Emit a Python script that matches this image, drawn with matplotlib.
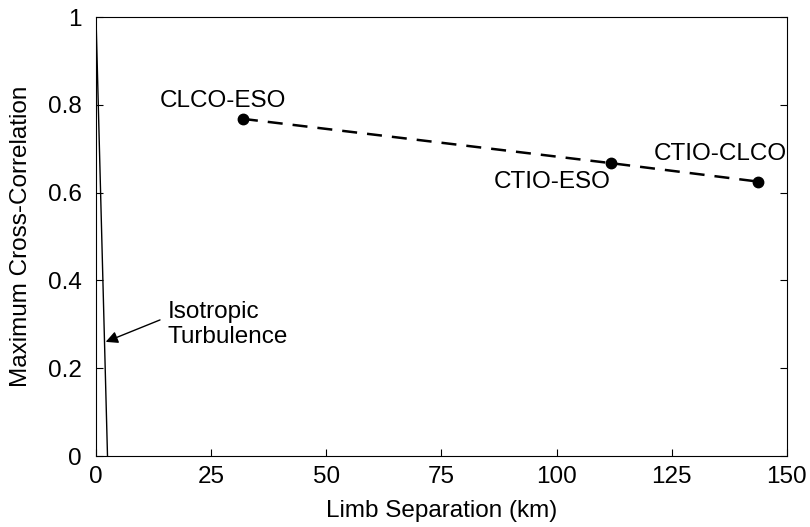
import matplotlib
matplotlib.use("Agg")
import matplotlib.pyplot as plt

plt.rcParams['font.family'] = ['Liberation Sans', 'DejaVu Sans']

sep_km = [31.9, 111.9, 143.8]
corr = [0.768, 0.667, 0.625]
pair_labels = ["CLCO-ESO", "CTIO-ESO", "CTIO-CLCO"]
iso_x = [0.0, 2.5]
iso_y = [1.0, 0.0]
xticks = [0, 25, 50, 75, 100, 125, 150]
yticks = [0, 0.2, 0.4, 0.6, 0.8, 1.0]
yticklabels = ["0", "0.2", "0.4", "0.6", "0.8", "1"]

FS = 17.5

fig = plt.figure(figsize=(8.1, 5.27), dpi=100)
ax = fig.add_axes([0.1185, 0.1347, 0.853, 0.833])

ax.plot(sep_km, corr, color='black', linestyle=(0, (6, 4)), linewidth=1.8)
ax.plot(sep_km, corr, 'o', color='black', markersize=7.5)
ax.plot(iso_x, iso_y, color='black', linewidth=1.0)

ax.text(27.5, 0.795, pair_labels[0], fontsize=FS, ha='center', va='baseline')
ax.text(99.0, 0.610, pair_labels[1], fontsize=FS, ha='center', va='baseline')
ax.text(149.9, 0.674, pair_labels[2], fontsize=FS, ha='right', va='baseline')

ax.text(15.6, 0.314, "Isotropic", fontsize=FS, ha='left', va='baseline')
ax.text(15.6, 0.257, "Turbulence", fontsize=FS, ha='left', va='baseline')
ax.annotate("", xy=(2.1, 0.26), xytext=(13.9, 0.31),
            arrowprops=dict(arrowstyle='-|>', color='black', lw=1.0, mutation_scale=18,
                            shrinkA=0, shrinkB=0))

ax.set_xlim(0, 150)
ax.set_ylim(0, 1)
ax.set_xticks(xticks)
ax.set_yticks(yticks)
ax.set_yticklabels(yticklabels)
ax.tick_params(direction='in', labelsize=FS, length=5, top=False, right=True)
ax.tick_params(axis='x', pad=7)
ax.tick_params(axis='y', pad=10)
ax.set_xlabel("Limb Separation (km)", fontsize=FS, labelpad=9)
ax.set_ylabel("Maximum Cross-Correlation", fontsize=FS, labelpad=12)

fig.savefig("out.png", dpi=100)
